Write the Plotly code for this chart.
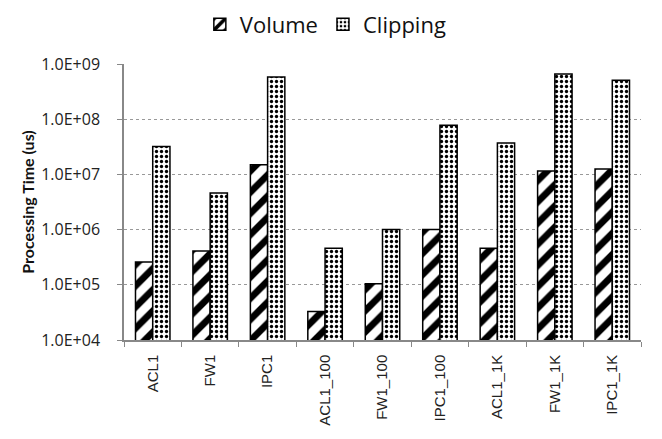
import plotly.graph_objects as go

categories = ["ACL1", "FW1", "IPC1", "ACL1_100", "FW1_100", "IPC1_100", "ACL1_1K", "FW1_1K", "IPC1_1K"]
volume = [2.6e5, 4.1e5, 1.5e7, 3.3e4, 1.05e5, 1.0e6, 4.6e5, 1.15e7, 1.25e7]
clipping = [3.2e7, 4.6e6, 5.8e8, 4.6e5, 1.0e6, 7.8e7, 3.7e7, 6.6e8, 5.1e8]
tick_vals = [1e4, 1e5, 1e6, 1e7, 1e8, 1e9]
tick_text = ["1.0E+04", "1.0E+05", "1.0E+06", "1.0E+07", "1.0E+08", "1.0E+09"]

font_family = "Open Sans, Lato, sans-serif"

fig = go.Figure()
fig.add_trace(go.Bar(
    x=categories, y=volume, name="Volume",
    marker=dict(color="white", line=dict(color="black", width=1.5),
                pattern=dict(shape="/", fgcolor="black", bgcolor="white", fgopacity=1,
                             size=15, solidity=0.45)),
))
fig.add_trace(go.Bar(
    x=categories, y=clipping, name="Clipping",
    marker=dict(color="white", line=dict(color="black", width=1.5),
                pattern=dict(shape=".", fgcolor="black", bgcolor="white", fgopacity=1,
                             size=5, solidity=0.35)),
))

fig.update_layout(
    width=654, height=431,
    margin=dict(l=116, r=21, t=56, b=99, autoexpand=False),
    plot_bgcolor="white", paper_bgcolor="white",
    barmode="group", bargap=0.4, bargroupgap=0,
    font=dict(family=font_family, color="#222", size=14),
    legend=dict(orientation="h", xref="container", x=0.486, xanchor="center",
                yref="container", y=0.962, yanchor="middle",
                font=dict(size=22, color="#111"), traceorder="normal"),
    showlegend=True,
)
fig.update_yaxes(
    type="log", range=[4, 9.0], tickvals=tick_vals, ticktext=tick_text,
    showgrid=True, gridcolor="#999", griddash="dot", gridwidth=1,
    showline=True, linecolor="#888", linewidth=1.5,
    ticks="outside", ticklen=5, tickcolor="#888",
    tickfont=dict(size=16, color="#222"), ticklabelstandoff=14,
    title=dict(text="<b>Processing Time (us)</b>", font=dict(size=16, color="#111",
               family="Lato, sans-serif"), standoff=3),
    zeroline=False, automargin=False,
)
fig.update_xaxes(
    type="category", tickangle=-90, tickson="boundaries",
    showline=True, linecolor="#888", linewidth=1.5,
    ticks="outside", ticklen=5, tickcolor="#888",
    tickfont=dict(size=15, color="#222", family="Liberation Sans, Arial, sans-serif"),
    ticklabelstandoff=7,
    showgrid=False, automargin=False,
)

fig.write_html("out.html")
